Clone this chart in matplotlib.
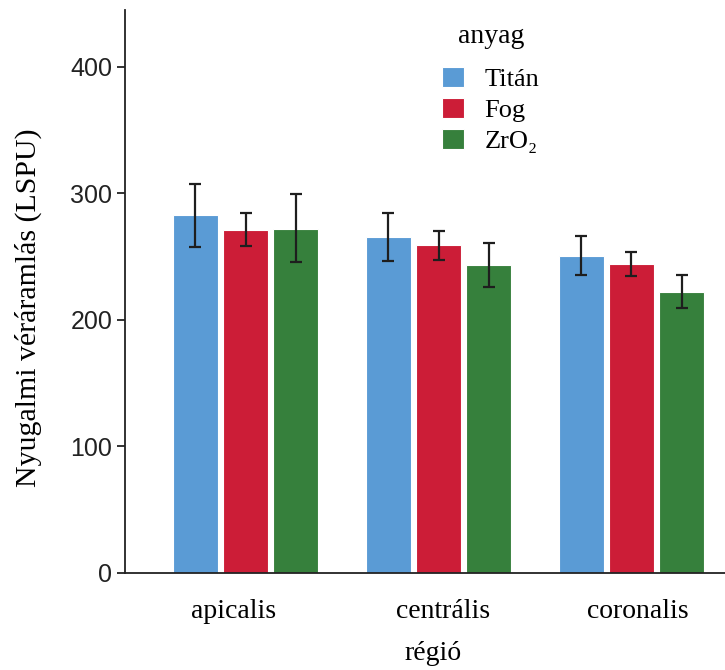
import matplotlib.pyplot as plt
import matplotlib.transforms as mtransforms
import numpy as np

# data
regions = ["apicalis", "centrális", "coronalis"]
materials = ["Titán", "Fog", "ZrO₂"]
means = {
    "Titán": [282.7, 265.8, 250.4],
    "Fog": [271.4, 258.9, 244.3],
    "ZrO₂": [272.2, 243.2, 222.0],
}
err_low = {
    "Titán": [258.0, 247.0, 235.3],
    "Fog": [258.6, 247.7, 234.5],
    "ZrO₂": [245.6, 226.2, 209.3],
}
err_high = {
    "Titán": [307.6, 284.9, 266.3],
    "Fog": [284.6, 270.3, 254.1],
    "ZrO₂": [299.2, 260.7, 235.3],
}
colors = {"Titán": "#5a9bd5", "Fog": "#cc1d37", "ZrO₂": "#36803c"}

serif = ["Liberation Serif", "DejaVu Serif"]
sans = ["Liberation Sans", "DejaVu Sans"]

fig = plt.figure(figsize=(7.25, 6.7), dpi=100)
ax = fig.add_axes([0.1724, 0.1448, 0.8276, 0.8402])

x = np.arange(len(regions))
pitch = 0.26
width = 0.236
for i, m in enumerate(materials):
    pos = x + (i - 1) * pitch
    vals = np.array(means[m])
    yerr = [vals - np.array(err_low[m]), np.array(err_high[m]) - vals]
    ax.bar(pos, vals, width, color=colors[m], edgecolor="white", linewidth=0.8,
           label=m, zorder=2)
    ax.errorbar(pos, vals, yerr=yerr, fmt="none", ecolor="#1e1e1e",
                elinewidth=1.6, capsize=4, capthick=1.6, zorder=3)

ax.set_xlim(-0.625, 2.485)
ax.set_ylim(0, 445)
ax.set_yticks([0, 100, 200, 300, 400])
ax.set_xticks(x)
ax.set_xticklabels(regions, fontfamily=serif, fontsize=20)
for lab in ax.get_yticklabels():
    lab.set_fontfamily(sans)
    lab.set_fontsize(18)
ax.tick_params(axis="y", length=6, width=1.3, pad=3, colors="#222222")
ax.tick_params(axis="x", length=0, pad=19)

# the category labels sit a little off the group centres in the original
for lab, dx in zip(ax.get_xticklabels(), [-12, 5, 6]):
    lab.set_transform(lab.get_transform() + mtransforms.Affine2D().translate(dx, 0))

for s in ["top", "right"]:
    ax.spines[s].set_visible(False)
for s in ["left", "bottom"]:
    ax.spines[s].set_linewidth(1.3)
    ax.spines[s].set_color("#222222")

ax.set_ylabel("Nyugalmi véráramlás (LSPU)", fontfamily=serif, fontsize=21.5)
ax.yaxis.set_label_coords(-0.139, 0.471)
ax.set_xlabel("régió", fontfamily=serif, fontsize=20)
ax.xaxis.set_label_coords(0.514, -0.121)

leg = ax.legend(loc="upper left", bbox_to_anchor=(0.529, 0.975), frameon=False,
                title="anyag", prop={"family": serif, "size": 19},
                handlelength=0.8, handleheight=0.8, handletextpad=0.8,
                labelspacing=0.25, borderpad=0, borderaxespad=0)
leg.get_title().set_fontfamily(serif)
leg.get_title().set_fontsize(20)
leg._legend_box.sep = 13

fig.savefig("out.png", dpi=100)
